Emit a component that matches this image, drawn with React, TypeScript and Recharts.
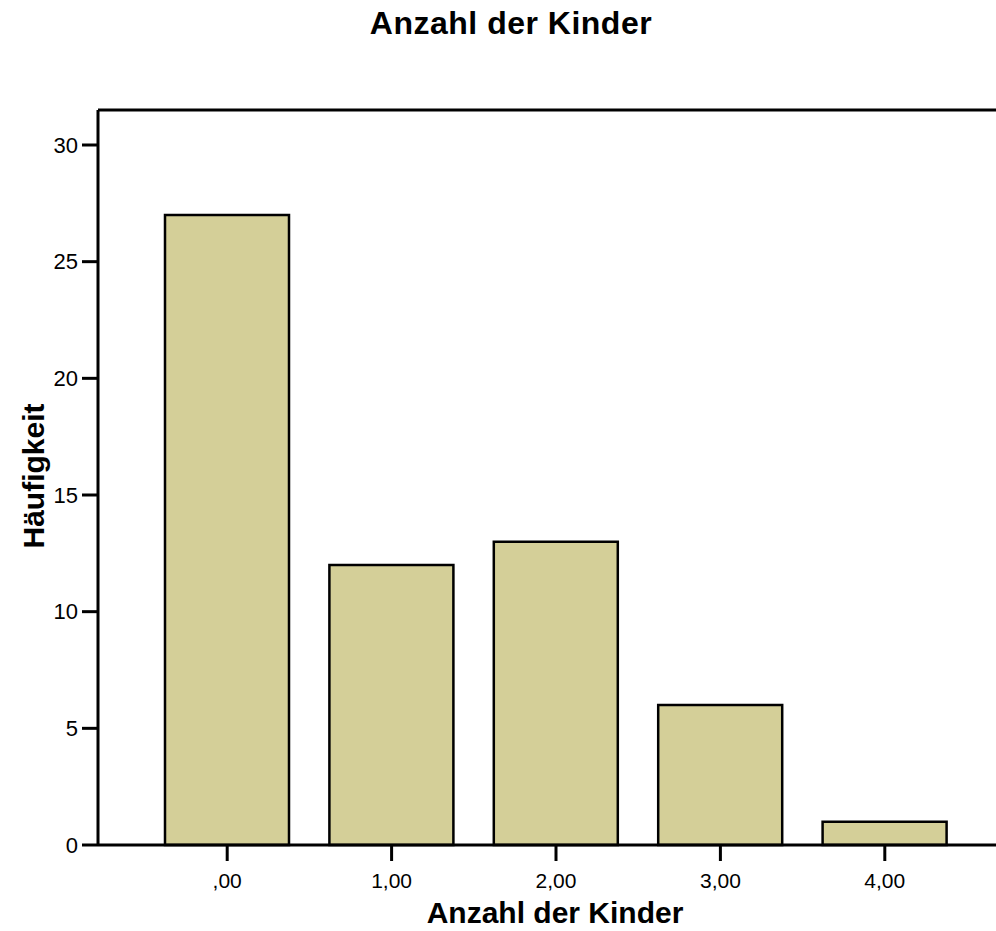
import React from "react";
import { BarChart, Bar, XAxis, YAxis, ReferenceLine } from "recharts";

const categories = [",00", "1,00", "2,00", "3,00", "4,00"];
const counts = [27, 12, 13, 6, 1];
const yTicks = [0, 5, 10, 15, 20, 25, 30];

const data = categories.map((name, i) => ({ name, value: counts[i] }));

const font = "'Liberation Sans', Arial, sans-serif";

export default function App() {
  return (
    <div
      style={{
        position: "absolute",
        left: 0,
        top: 0,
        width: 996,
        height: 931,
        overflow: "hidden",
        background: "#fff",
      }}
    >
      <BarChart
        width={996}
        height={931}
        data={data}
        margin={{ top: 110, right: 0, left: 0, bottom: 0 }}
        barCategoryGap={0}
      >
        <XAxis
          dataKey="name"
          height={86}
          padding={{ left: 47, right: 29 }}
          axisLine={{ stroke: "#000", strokeWidth: 3 }}
          tickLine={{ stroke: "#000", strokeWidth: 3 }}
          tickSize={16}
          tickMargin={12}
          tick={{ fill: "#000", fontSize: 21, fontFamily: font }}
        />
        <YAxis
          width={98}
          domain={[0, 31.5]}
          ticks={yTicks}
          interval={0}
          axisLine={{ stroke: "#000", strokeWidth: 3 }}
          tickLine={{ stroke: "#000", strokeWidth: 3 }}
          tickSize={16}
          tickMargin={4}
          tick={{ fill: "#000", fontSize: 22, fontFamily: font }}
        />
        <ReferenceLine y={31.5} stroke="#000" strokeWidth={3} />
        <Bar
          dataKey="value"
          barSize={124}
          fill="#d4cf98"
          stroke="#000"
          strokeWidth={2.5}
          isAnimationActive={false}
        />
      </BarChart>
      <svg
        width={996}
        height={931}
        style={{ position: "absolute", left: 0, top: 0, pointerEvents: "none" }}
      >
        <text
          x={511}
          y={34}
          textAnchor="middle"
          fontFamily={font}
          fontWeight="bold"
          fontSize={32}
          letterSpacing={0.5}
          fill="#000"
        >
          Anzahl der Kinder
        </text>
        <text
          x={555}
          y={923}
          textAnchor="middle"
          fontFamily={font}
          fontWeight="bold"
          fontSize={30}
          fill="#000"
        >
          Anzahl der Kinder
        </text>
        <text
          transform="translate(44,476) rotate(-90)"
          textAnchor="middle"
          fontFamily={font}
          fontWeight="bold"
          fontSize={30}
          fill="#000"
        >
          Häufigkeit
        </text>
      </svg>
    </div>
  );
}
